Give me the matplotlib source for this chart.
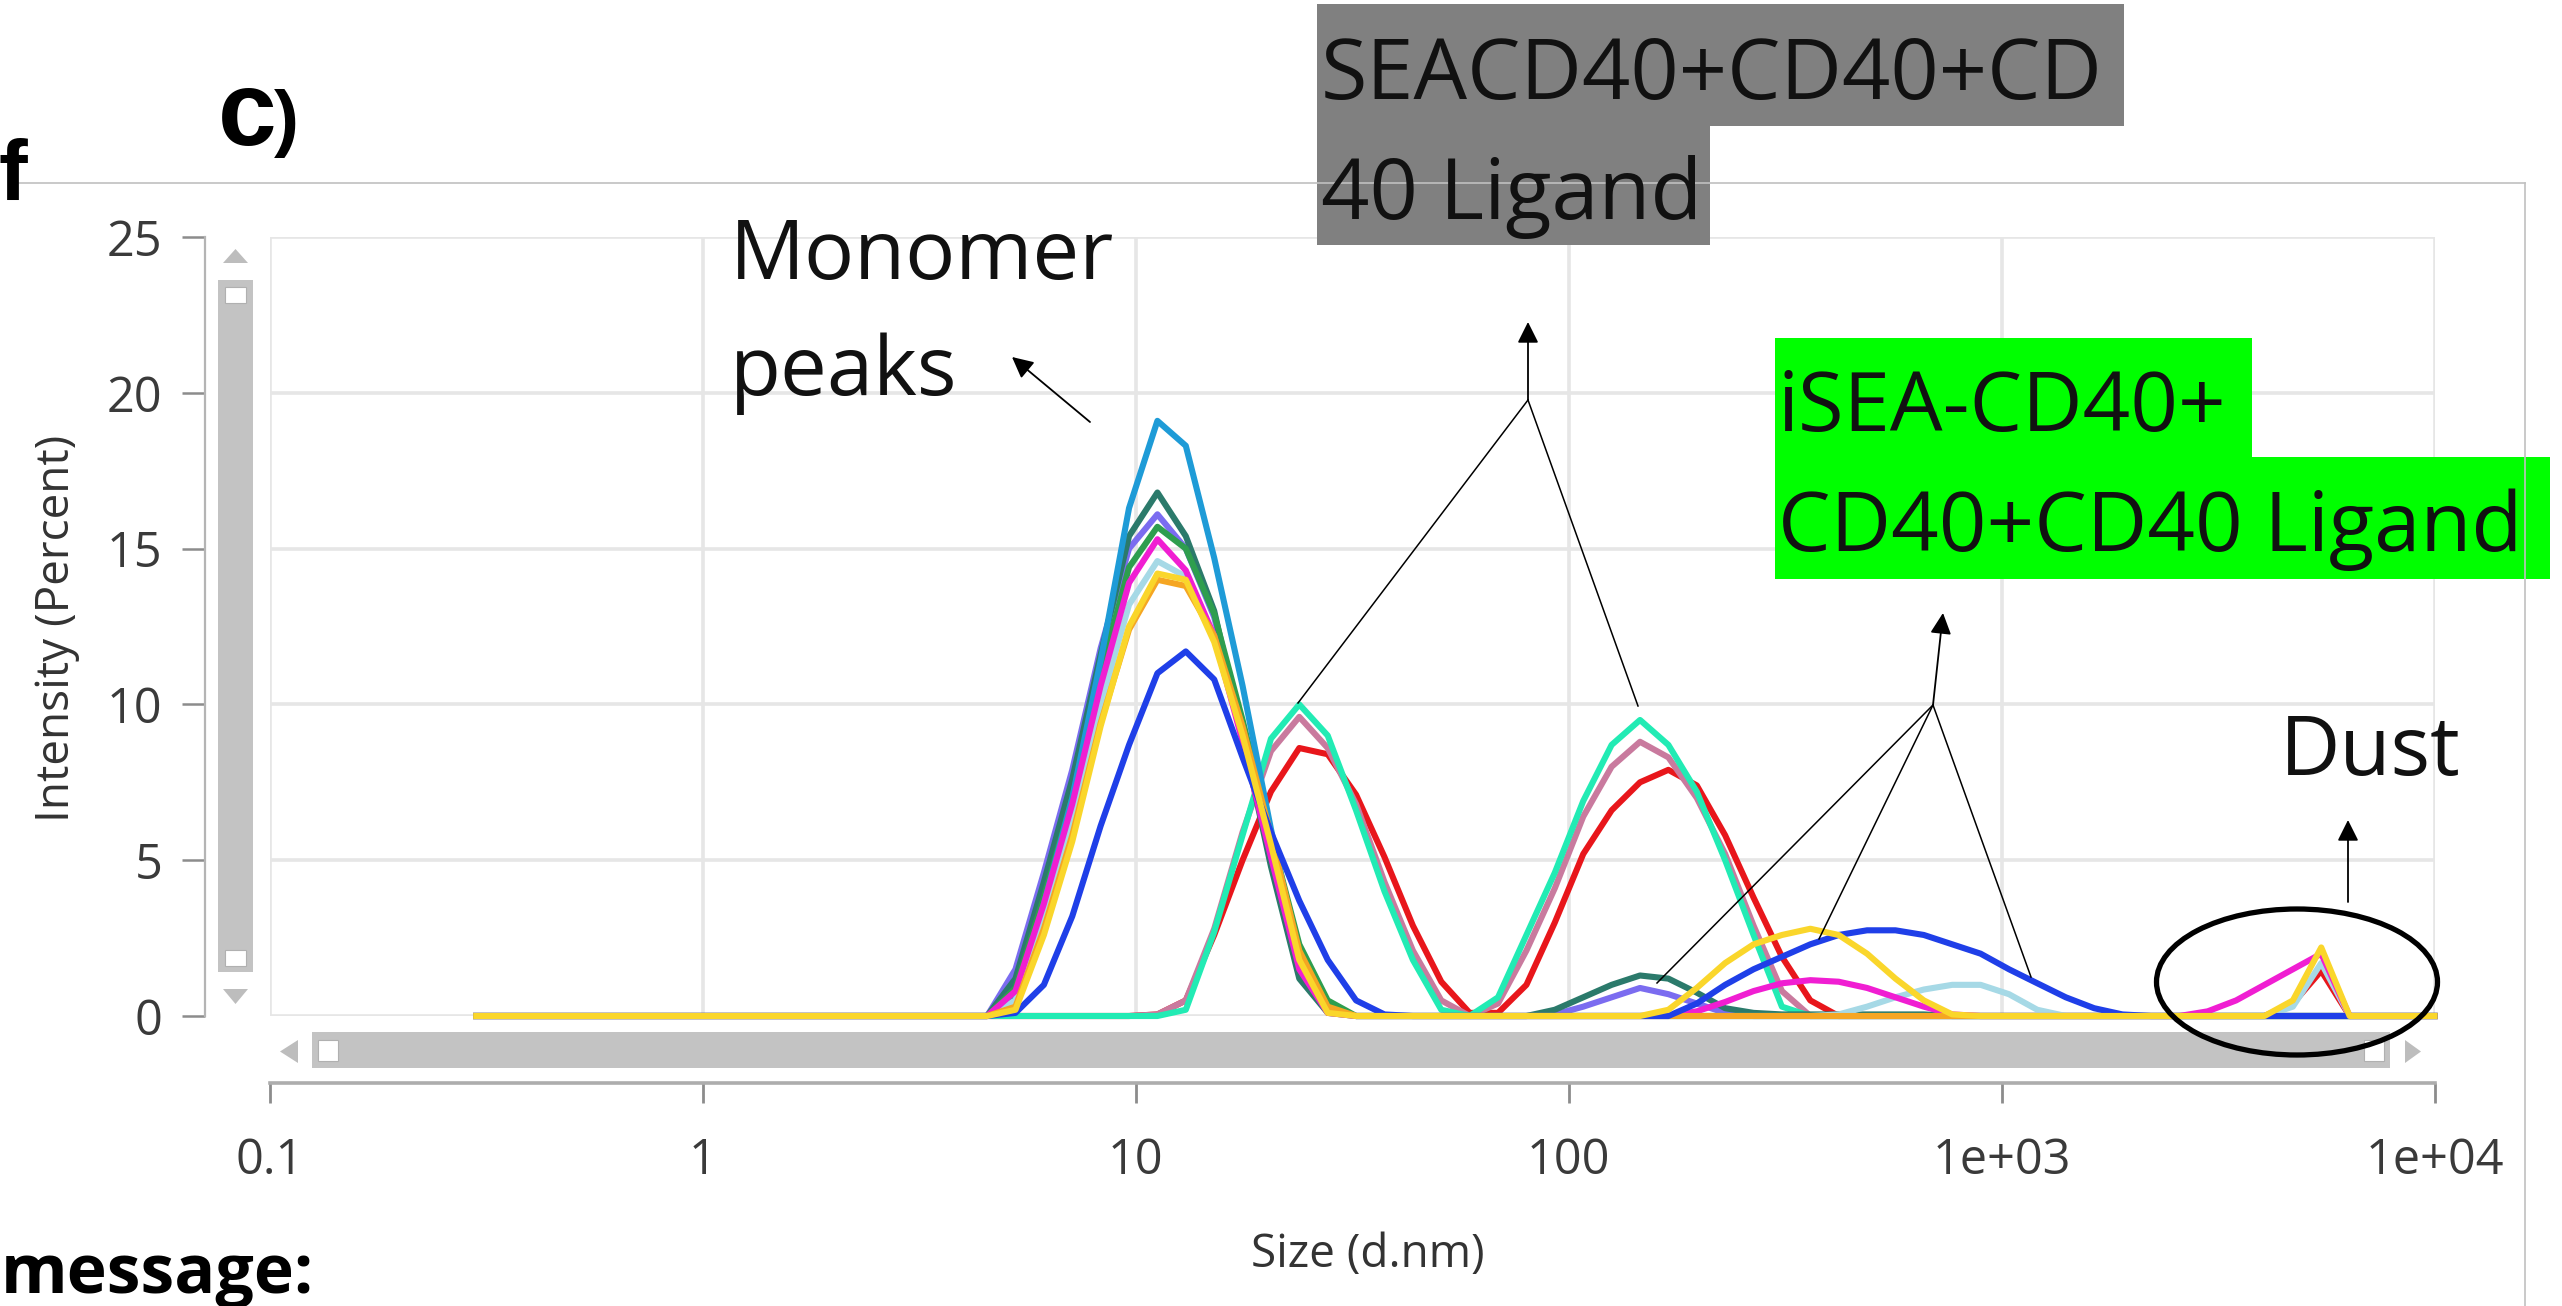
import matplotlib
matplotlib.use("Agg")
import matplotlib.pyplot as plt
from matplotlib.patches import Rectangle, Ellipse, Polygon
from matplotlib.ticker import NullLocator
import numpy as np

plt.rcParams['font.family'] = ['Open Sans', 'DejaVu Sans']

# size classes of the DLS instrument (d.nm), 70 bins
size_nm = [0.300, 0.3489, 0.4057, 0.4718, 0.5487, 0.6381, 0.7420, 0.8629, 1.004, 1.167,
           1.357, 1.578, 1.835, 2.134, 2.482, 2.886, 3.357, 3.904, 4.540, 5.279,
           6.140, 7.140, 8.303, 9.657, 11.23, 13.06, 15.19, 17.66, 20.54, 23.88,
           27.78, 32.30, 37.57, 43.69, 50.81, 59.09, 68.71, 79.91, 92.93, 108.1,
           125.7, 146.2, 170.0, 197.7, 229.9, 267.4, 310.9, 361.6, 420.5, 489.0,
           568.7, 661.4, 769.2, 894.5, 1040, 1209, 1407, 1636, 1902, 2212,
           2573, 2992, 3480, 4047, 4706, 5473, 6365, 7402, 8608, 10000]

# each record: (first bin, intensities %) for its peaks, zero everywhere else
rec_red = [(24, [0.05, 0.5, 2.6, 5.0, 7.2, 8.6, 8.4, 7.1, 5.1, 2.9, 1.1, 0.1]),
           (36, [0.1, 1.0, 3.0, 5.2, 6.6, 7.5, 7.9, 7.4, 5.8, 3.8, 1.9, 0.5]),
           (64, [0.4, 1.45])]
rec_mauve = [(24, [0.05, 0.5, 2.8, 5.9, 8.5, 9.6, 8.6, 6.8, 4.3, 2.1, 0.5]),
             (36, [0.4, 2.1, 4.1, 6.4, 8.0, 8.8, 8.3, 7.0, 5.2, 2.9, 0.8])]
rec_cyan = [(25, [0.2, 2.7, 5.8, 8.9, 10.0, 9.0, 6.6, 4.0, 1.8, 0.2]),
            (36, [0.6, 2.6, 4.6, 6.9, 8.7, 9.5, 8.7, 7.2, 5.0, 2.6, 0.3])]
rec_purple = [(19, [1.5, 4.6, 7.9, 11.8, 15.0, 16.1, 15.0, 12.8, 9.2, 5.0, 1.4, 0.2]),
              (38, [0.05, 0.3, 0.6, 0.9, 0.7, 0.4, 0.1])]
rec_darkteal = [(19, [1.2, 4.3, 7.6, 11.6, 15.4, 16.8, 15.4, 13.0, 9.0, 4.8, 1.2, 0.1]),
                (38, [0.2, 0.6, 1.0, 1.3, 1.2, 0.75, 0.25, 0.1, 0.05, 0.05, 0.05, 0.05, 0.05, 0.05])]
rec_green = [(19, [0.9, 3.8, 7.0, 11.0, 14.4, 15.7, 15.0, 12.9, 9.5, 5.8, 2.3, 0.5])]
rec_lightblue = [(19, [0.6, 3.6, 7.0, 11.4, 16.3, 19.1, 18.3, 14.7, 10.6, 6.0, 1.8, 0.2])]
rec_pale = [(19, [0.5, 3.2, 6.3, 10.0, 13.2, 14.6, 14.1, 12.1, 9.0, 5.3, 1.7, 0.2]),
            (48, [0.05, 0.3, 0.6, 0.85, 1.0, 1.0, 0.7, 0.2]),
            (64, [0.3, 1.7])]
rec_magenta = [(19, [0.8, 3.6, 6.8, 10.6, 13.9, 15.3, 14.3, 12.2, 8.8, 5.1, 1.5, 0.1]),
               (43, [0.15, 0.45, 0.8, 1.05, 1.15, 1.1, 0.9, 0.6, 0.3, 0.05]),
               (61, [0.15, 0.5, 1.0, 1.5, 2.0])]
rec_orange = [(19, [0.3, 2.8, 5.8, 9.4, 12.4, 14.0, 13.8, 12.2, 9.3, 5.8, 2.1, 0.3])]
rec_blue = [(19, [0.1, 1.0, 3.2, 6.1, 8.7, 11.0, 11.7, 10.8, 8.3, 5.9, 3.7, 1.8, 0.5, 0.05]),
            (43, [0.4, 1.0, 1.5, 1.9, 2.3, 2.6, 2.75, 2.75, 2.6, 2.3, 2.0, 1.5, 1.05, 0.6, 0.25, 0.05])]
rec_yellow = [(19, [0.2, 2.6, 5.6, 9.3, 12.5, 14.2, 14.0, 12.0, 9.0, 5.5, 1.8, 0.1]),
              (42, [0.2, 0.9, 1.7, 2.3, 2.6, 2.8, 2.6, 2.0, 1.2, 0.5, 0.05]),
              (64, [0.5, 2.2])]

# drawing order bottom -> top
records = [rec_red, rec_mauve, rec_cyan, rec_purple, rec_darkteal, rec_green,
           rec_lightblue, rec_pale, rec_magenta, rec_orange, rec_blue, rec_yellow]
colors = ["#E8161B", "#C97A9E", "#22EBB4", "#7B6CF0", "#2B7A6B", "#2E9E4E",
          "#1E9BD7", "#A6D9E6", "#F01ED2", "#F5A623", "#1F3FE8", "#FAD62B"]

xticks = [0.1, 1, 10, 100, 1000, 10000]
xtick_labels = ["0.1", "1", "10", "100", "1e+03", "1e+04"]
yticks = [0, 5, 10, 15, 20, 25]


def expand(segments):
    y = np.zeros(len(size_nm))
    for start, vals in segments:
        y[start:start + len(vals)] = vals
    return y


W, H = 2562, 1306
fig = plt.figure(figsize=(W / 100, H / 100), dpi=100)
fig.patch.set_facecolor("white")

ax = fig.add_axes([269.6 / W, 1 - 1016 / H, (2434.6 - 269.6) / W, (1016 - 237) / H])
for rec, c in zip(records, colors):
    ax.plot(size_nm, expand(rec), color=c, lw=4.4, clip_on=False)

ax.set_xscale("log")
ax.set_xlim(0.1, 1e4)
ax.set_ylim(0, 25)
ax.set_xticks(xticks)
ax.set_xticklabels(xtick_labels)
ax.xaxis.set_minor_locator(NullLocator())
ax.set_yticks(yticks)
ax.grid(True, color="#e6e6e6", lw=2.6)
ax.set_axisbelow(True)
for s in ["top", "right"]:
    ax.spines[s].set_visible(False)
ax.spines["left"].set_position(("outward", 46.8))
ax.spines["left"].set_color("#b4b4b4")
ax.spines["left"].set_linewidth(1.6)
ax.spines["bottom"].set_position(("outward", 48.2))
ax.spines["bottom"].set_color("#adadad")
ax.spines["bottom"].set_linewidth(2.6)
ax.tick_params(axis="x", length=14.4, width=2, color="#8c8c8c", pad=24,
               labelsize=35, labelcolor="#3a3a3a")
ax.tick_params(axis="y", length=16.5, width=1.8, color="#8c8c8c", pad=13.7,
               labelsize=35, labelcolor="#3a3a3a")

# overlay in pixel coordinates for the screenshot furniture and notes
ov = fig.add_axes([0, 0, 1, 1], zorder=5)
ov.set_xlim(0, W)
ov.set_ylim(H, 0)
ov.axis("off")
ov.patch.set_alpha(0)

ov.text(57, 628, "Intensity (Percent)", rotation=90, ha="center", va="center",
        fontsize=33, color="#333333")
ov.text(1368, 1255, "Size (d.nm)", ha="center", va="center", fontsize=33, color="#333333")

# outer frame
ov.plot([17, 2525], [183, 183], color="#c0c0c0", lw=1.2)
ov.plot([2525, 2525], [183, H], color="#c0c0c0", lw=1.2)

# scrollbars
sb = "#c3c3c3"
ov.add_patch(Rectangle((218, 280), 35, 692, fc=sb, ec="none"))
ov.add_patch(Rectangle((225, 287), 21, 16, fc="white", ec="#b0b0b0", lw=0.8))
ov.add_patch(Rectangle((225, 950), 21, 16, fc="white", ec="#b0b0b0", lw=0.8))
ov.add_patch(Polygon([(223, 263), (248, 263), (235.5, 249)], fc="#bdbdbd", ec="none"))
ov.add_patch(Polygon([(223, 989), (248, 989), (235.5, 1004)], fc="#bdbdbd", ec="none"))
ov.add_patch(Rectangle((312, 1032), 2078, 36, fc=sb, ec="none"))
ov.add_patch(Rectangle((318, 1040), 20, 21, fc="white", ec="#b0b0b0", lw=0.8))
ov.add_patch(Rectangle((2364, 1040), 20, 21, fc="white", ec="#b0b0b0", lw=0.8))
ov.add_patch(Polygon([(298, 1040), (298, 1063), (280, 1051.5)], fc="#bdbdbd", ec="none"))
ov.add_patch(Polygon([(2405, 1040), (2405, 1063), (2421, 1051.5)], fc="#bdbdbd", ec="none"))

# panel letters
ov.text(-2, 200, "f", fontsize=62, fontweight="bold", family="Liberation Sans",
        ha="left", va="baseline")
ov.text(218, 145, "c", fontsize=76, fontweight="bold", family="Liberation Sans",
        ha="left", va="baseline")
ov.text(274, 143, ")", fontsize=54, fontweight="bold", family="Liberation Sans",
        ha="left", va="baseline")
ov.text(314, 1293, "message:", fontsize=49, fontweight="bold", ha="right", va="baseline")

# annotation boxes
ov.add_patch(Rectangle((1317, 4), 807, 122, fc="#808080", ec="none"))
ov.add_patch(Rectangle((1317, 126), 393, 119, fc="#808080", ec="none"))
ov.text(1321, 99, "SEACD40+CD40+CD", fontsize=61, color="#111111", va="baseline")
ov.text(1321, 219, "40 Ligand", fontsize=61, color="#111111", va="baseline")

ov.add_patch(Rectangle((1775, 338), 477, 120, fc="#00ff00", ec="none"))
ov.add_patch(Rectangle((1775, 457), 775, 122, fc="#00ff00", ec="none"))
ov.text(1778, 431, "iSEA-CD40+", fontsize=60, color="#111111", va="baseline")
ov.text(1778, 551, "CD40+CD40 Ligand", fontsize=60, color="#111111", va="baseline")

ov.text(730, 279, "Monomer", fontsize=60, color="#111111", va="baseline")
ov.text(730, 395, "peaks", fontsize=60, color="#111111", va="baseline")
ov.text(2280, 775, "Dust", fontsize=60, color="#111111", va="baseline")

arrow = dict(arrowstyle="-|>", color="black", lw=1.3, mutation_scale=32,
             shrinkA=0, shrinkB=0)
ov.annotate("", xy=(1012, 357), xytext=(1090, 422), arrowprops=arrow)
ov.annotate("", xy=(1528, 322), xytext=(1528, 400), arrowprops=arrow)
ov.annotate("", xy=(1943, 613), xytext=(1933, 705), arrowprops=arrow)
ov.annotate("", xy=(2348, 820), xytext=(2348, 902), arrowprops=arrow)

for x2, y2 in [(1298, 703), (1638, 706)]:
    ov.plot([1528, x2], [400, y2], color="black", lw=1.1)
for x2, y2 in [(1657, 983), (1819, 939), (2031, 977)]:
    ov.plot([1933, x2], [705, y2], color="black", lw=1.1)

ov.add_patch(Ellipse((2297, 982), 281, 146, fill=False, ec="black", lw=3.8))

fig.savefig("out.png", dpi=100)
